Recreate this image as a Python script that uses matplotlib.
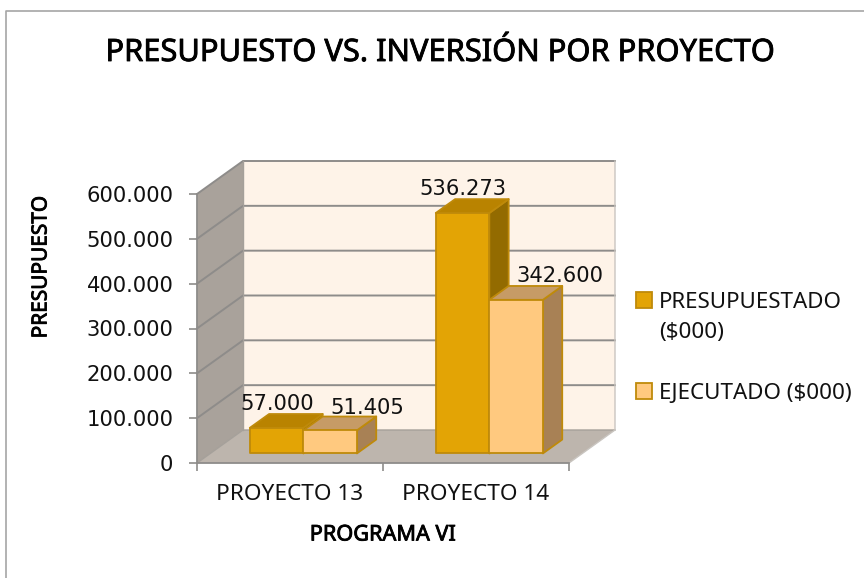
#!/usr/bin/env python3
"""Presupuesto vs. inversion por proyecto, Excel style 3D columns drawn by hand."""

import matplotlib

matplotlib.use("Agg")
import matplotlib.patheffects as pe
import matplotlib.pyplot as plt
import numpy as np
from matplotlib.lines import Line2D
from matplotlib.patches import Patch, Polygon

proyectos = ["PROYECTO 13", "PROYECTO 14"]
presupuestado = [57000, 536273]
ejecutado = [51405, 342600]
y_ticks = [0, 100000, 200000, 300000, 400000, 500000, 600000]
# the wrapped legend entry takes two rows, and a blank row separates the series
legend_rows = ["PRESUPUESTADO", "($000)", " ", "EJECUTADO ($000)"]

W, H = 864, 578
TEXT_FONT = ["Noto Sans", "DejaVu Sans"]

# oblique depth of the box, in axis units per unit of depth
YMAX = 600000
DEPTH_X = 46 / 186
DEPTH_Y = 33 / 269 * YMAX
BAR_W = 0.288
BAR_D0, BAR_D1 = 0.29, 0.71

DARK = {"front": "#E3A405", "top": "#B98300", "side": "#936B00"}
LIGHT = {"front": "#FFC97F", "top": "#C69B66", "side": "#A88155"}
EDGE = "#BF8A0A"
WALL_BACK = "#FEF3E8"
WALL_SIDE = "#A9A29B"
FLOOR = "#BDB5AD"
GRID = "#8E8C8A"


def proj(x, y, d):
    return (x + d * DEPTH_X, y + d * DEPTH_Y)


def face(ax, pts, color, edge=None, lw=0.0, z=1):
    ax.add_patch(Polygon([proj(*p) for p in pts], closed=True, facecolor=color,
                         edgecolor=edge or color, linewidth=lw, zorder=z,
                         clip_on=False, joinstyle="round"))


def box(ax, x0, x1, h, colors, z):
    d0, d1 = BAR_D0, BAR_D1
    face(ax, [(x1, 0, d0), (x1, 0, d1), (x1, h, d1), (x1, h, d0)], colors["side"], EDGE, 1.3, z)
    face(ax, [(x0, h, d0), (x1, h, d0), (x1, h, d1), (x0, h, d1)], colors["top"], EDGE, 1.3, z)
    face(ax, [(x0, 0, d0), (x1, 0, d0), (x1, h, d0), (x0, h, d0)], colors["front"], EDGE, 1.3, z)


def heavy(width):
    # the installed Noto Sans has no bold cut, thicken the strokes instead
    return [pe.withStroke(linewidth=width, foreground="black")]


fig = plt.figure(figsize=(W / 100, H / 100), dpi=100)
fig.patch.set_facecolor("white")

# chart frame, only the left and top edges are inside the crop
fig.add_artist(Line2D([6 / W, 6 / W, 1], [0, 1 - 11 / H, 1 - 11 / H], color="#A6A6A6", lw=1.2))

ax = fig.add_axes([197 / W, 1 - 463 / H, 372 / W, 269 / H])
ax.set_xlim(0, 2)
ax.set_ylim(0, YMAX)
ax.patch.set_alpha(0)
for s in ("top", "right"):
    ax.spines[s].set_visible(False)
for s in ("left", "bottom"):
    ax.spines[s].set_color("#8E8C8A")
    ax.spines[s].set_linewidth(1.3)
    ax.spines[s].set_zorder(6)

# walls and floor
face(ax, [(0, 0, 1), (2, 0, 1), (2, YMAX, 1), (0, YMAX, 1)], WALL_BACK, z=1)
face(ax, [(0, 0, 0), (0, 0, 1), (0, YMAX, 1), (0, YMAX, 0)], WALL_SIDE, z=1)
face(ax, [(0, 0, 0), (2, 0, 0), (2, 0, 1), (0, 0, 1)], FLOOR, z=1)

for v in y_ticks[1:]:
    pts = [proj(0, v, 0), proj(0, v, 1), proj(2, v, 1)]
    ax.plot(*zip(*pts), color=GRID, lw=1.4, zorder=2, clip_on=False)
# wall edges
ax.plot(*zip(*[proj(0, 0, 0), proj(0, 0, 1), proj(2, 0, 1)]), color="#A5A09A", lw=1.0, zorder=2, clip_on=False)
ax.plot(*zip(*[proj(2, 0, 0), proj(2, 0, 1), proj(2, YMAX, 1)]), color="#C9C5C0", lw=1.0, zorder=2, clip_on=False)
ax.plot(*zip(*[proj(0, 0, 1), proj(0, YMAX, 1)]), color="#A5A09A", lw=1.0, zorder=2, clip_on=False)

centers = np.arange(len(proyectos)) + 0.5
for i, c in enumerate(centers):
    box(ax, c - BAR_W, c, presupuestado[i], DARK, 3 + i)
    box(ax, c, c + BAR_W, ejecutado[i], LIGHT, 3.5 + i)

# data labels, nudged by hand like the original ones (pixels)
label_off = [[(1, 24), (37, 22)], [(0, 24), (44, 24)]]
for i, c in enumerate(centers):
    for j, (vals, x) in enumerate(((presupuestado, c - BAR_W / 2), (ejecutado, c + BAR_W / 2))):
        dx, dy = label_off[i][j]
        txt = f"{vals[i]:,}".replace(",", ".")
        ax.annotate(txt, proj(x, vals[i], BAR_D0), xytext=(dx * 0.72, dy * 0.72),
                    textcoords="offset points", ha="center", va="center",
                    fontsize=15.2, color="#111111", zorder=8)

ax.set_yticks(y_ticks)
ax.set_yticklabels([f"{v:,}".replace(",", ".") for v in y_ticks], fontsize=15.2, color="#111111")
ax.tick_params(axis="y", length=6, width=1.2, color="#8E8C8A", pad=11)
ax.set_xticks([0, 1, 2])
ax.set_xticklabels([])
ax.tick_params(axis="x", which="major", length=6, width=1.2, color="#8E8C8A")
ax.set_xticks(centers, minor=True)
ax.set_xticklabels(proyectos, minor=True, fontsize=16.3, family=TEXT_FONT, color="#111111")
ax.tick_params(axis="x", which="minor", length=0, pad=15)

fig.text(440 / W, 1 - 53 / H, "PRESUPUESTO VS. INVERSIÓN POR PROYECTO", ha="center", va="center",
         fontsize=22.2, family=TEXT_FONT, color="black", path_effects=heavy(0.6))
fig.text(383 / W, 1 - 535 / H, "PROGRAMA VI", ha="center", va="center",
         fontsize=15.6, family=TEXT_FONT, color="black", path_effects=heavy(0.6))
fig.text(41 / W, 1 - 267 / H, "PRESUPUESTO", ha="center", va="center", rotation=90,
         fontsize=15, family=TEXT_FONT, color="black", path_effects=heavy(0.6))

handles = [Patch(facecolor=DARK["front"], edgecolor=EDGE, linewidth=1.3),
           Patch(visible=False), Patch(visible=False),
           Patch(facecolor=LIGHT["front"], edgecolor=EDGE, linewidth=1.3)]
leg = fig.legend(handles, legend_rows, loc="upper left", bbox_to_anchor=(636 / W, 1 - 292 / H),
                 frameon=False, handlelength=0.72, handleheight=0.72, handletextpad=0.32,
                 labelspacing=0.42, borderpad=0, borderaxespad=0,
                 prop={"family": TEXT_FONT, "size": 16.1}, labelcolor="#111111")

fig.savefig("out.png", dpi=100)
